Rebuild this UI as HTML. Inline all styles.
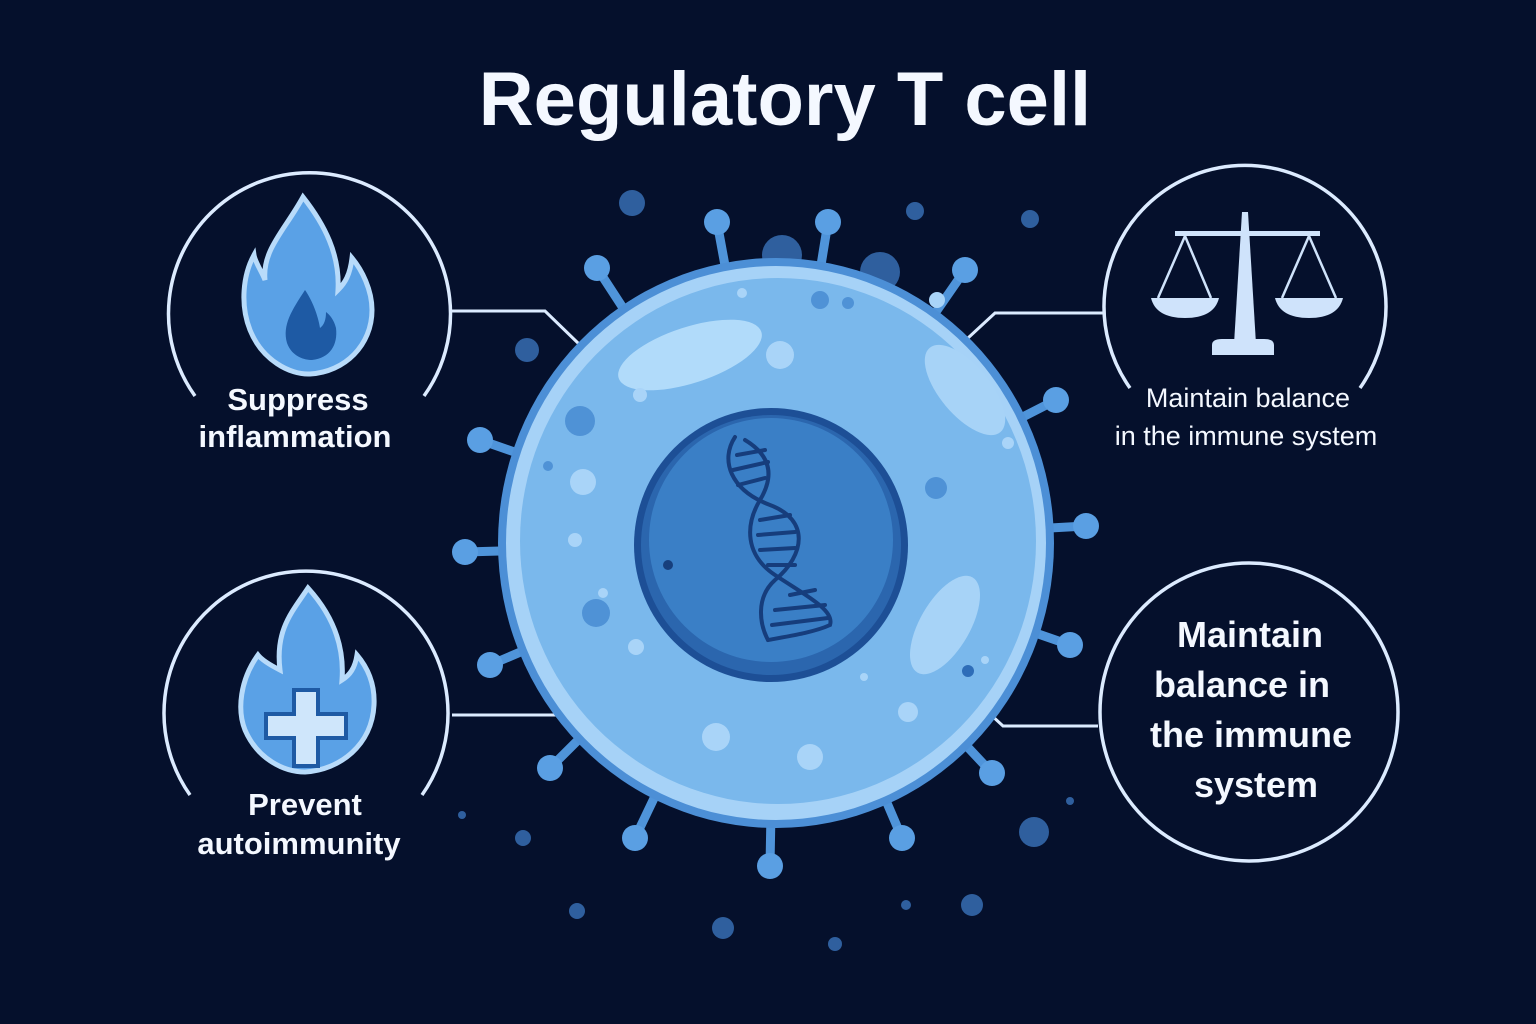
<!DOCTYPE html>
<html><head><meta charset="utf-8"><style>
html,body{margin:0;padding:0;background:#06112e;}
svg{display:block}
text{font-family:"Liberation Sans",sans-serif;font-weight:bold;fill:#f4f8ff;}
</style></head><body>
<svg width="1536" height="1024" viewBox="0 0 1536 1024">
<rect width="1536" height="1024" fill="#05102c"/>
<text x="785" y="125" font-size="76" text-anchor="middle">Regulatory T cell</text>

<!-- background dots -->
<g fill="#2f5f9e">
<circle cx="632" cy="203" r="13"/><circle cx="915" cy="211" r="9"/><circle cx="1030" cy="219" r="9"/>
<circle cx="527" cy="350" r="12"/><circle cx="782" cy="255" r="20"/><circle cx="880" cy="272" r="20"/>
<circle cx="1034" cy="832" r="15"/><circle cx="523" cy="838" r="8"/><circle cx="577" cy="911" r="8"/>
<circle cx="723" cy="928" r="11"/><circle cx="835" cy="944" r="7"/><circle cx="972" cy="905" r="11"/>
<circle cx="906" cy="905" r="5"/><circle cx="1070" cy="801" r="4"/><circle cx="462" cy="815" r="4"/>
</g>

<!-- connectors -->
<g stroke="#dcebff" stroke-width="3" fill="none">
<polyline points="450,311 545,311 580,345"/>
<polyline points="452,715 556,715"/>
<polyline points="1103,313 995,313 968,338"/>
<polyline points="1098,726 1003,726 990,714"/>
</g>

<!-- spikes -->
<g stroke="#4f94da" stroke-width="9" stroke-linecap="round">
<line x1="776" y1="543" x2="597" y2="268"/><line x1="776" y1="543" x2="717" y2="222"/>
<line x1="776" y1="543" x2="828" y2="222"/><line x1="776" y1="543" x2="965" y2="270"/>
<line x1="776" y1="543" x2="1056" y2="400"/><line x1="776" y1="543" x2="1086" y2="526"/>
<line x1="776" y1="543" x2="1070" y2="645"/><line x1="776" y1="543" x2="992" y2="773"/>
<line x1="776" y1="543" x2="902" y2="838"/><line x1="776" y1="543" x2="770" y2="866"/>
<line x1="776" y1="543" x2="635" y2="838"/><line x1="776" y1="543" x2="550" y2="768"/>
<line x1="776" y1="543" x2="490" y2="665"/><line x1="776" y1="543" x2="465" y2="552"/>
<line x1="776" y1="543" x2="480" y2="440"/>
</g>
<g fill="#5a9fe3">
<circle cx="597" cy="268" r="13"/><circle cx="717" cy="222" r="13"/><circle cx="828" cy="222" r="13"/>
<circle cx="965" cy="270" r="13"/><circle cx="1056" cy="400" r="13"/><circle cx="1086" cy="526" r="13"/>
<circle cx="1070" cy="645" r="13"/><circle cx="992" cy="773" r="13"/><circle cx="902" cy="838" r="13"/>
<circle cx="770" cy="866" r="13"/><circle cx="635" cy="838" r="13"/><circle cx="550" cy="768" r="13"/>
<circle cx="490" cy="665" r="13"/><circle cx="465" cy="552" r="13"/><circle cx="480" cy="440" r="13"/>
</g>

<!-- cell body -->
<ellipse cx="776" cy="543" rx="278" ry="285" fill="#4c8fd6"/>
<ellipse cx="776" cy="543" rx="270" ry="277" fill="#a6d2f7"/>
<ellipse cx="778" cy="541" rx="258" ry="263" fill="#7ab8ec"/>
<ellipse cx="690" cy="355" rx="75" ry="28" transform="rotate(-18 690 355)" fill="#b1dbfa"/>
<ellipse cx="965" cy="390" rx="55" ry="25" transform="rotate(50 965 390)" fill="#a7d3f7"/>
<ellipse cx="945" cy="625" rx="55" ry="25" transform="rotate(-60 945 625)" fill="#a7d3f7"/>
<g fill="#a9d4f8">
<circle cx="780" cy="355" r="14"/><circle cx="583" cy="482" r="13"/><circle cx="575" cy="540" r="7"/>
<circle cx="716" cy="737" r="14"/><circle cx="810" cy="757" r="13"/><circle cx="908" cy="712" r="10"/>
<circle cx="636" cy="647" r="8"/><circle cx="603" cy="593" r="5"/><circle cx="937" cy="300" r="8"/>
<circle cx="1008" cy="443" r="6"/><circle cx="742" cy="293" r="5"/><circle cx="640" cy="395" r="7"/>
<circle cx="864" cy="677" r="4"/><circle cx="985" cy="660" r="4"/>
</g>
<g fill="#4f92d6">
<circle cx="580" cy="421" r="15"/><circle cx="596" cy="613" r="14"/><circle cx="936" cy="488" r="11"/>
<circle cx="820" cy="300" r="9"/><circle cx="848" cy="303" r="6"/><circle cx="548" cy="466" r="5"/>
</g>
<circle cx="968" cy="671" r="6" fill="#2e6db8"/>

<!-- nucleus -->
<circle cx="771" cy="545" r="137" fill="#1d4f96"/>
<circle cx="771" cy="545" r="130" fill="#2b66ae"/>
<circle cx="771" cy="540" r="122" fill="#3a7fc6"/>
<circle cx="668" cy="565" r="5" fill="#173f7c"/>
<!-- DNA -->
<g stroke="#163d7c" stroke-width="4" fill="none" stroke-linecap="round">
<path d="M735,437 C720,460 730,490 770,505 C810,520 805,555 775,580 C755,598 760,625 768,640"/>
<path d="M745,440 C770,455 775,475 760,500 C745,525 745,555 775,575 C805,595 835,610 830,625 C815,632 790,636 768,640"/>
<line x1="737" y1="455" x2="765" y2="450"/><line x1="733" y1="470" x2="768" y2="462"/>
<line x1="738" y1="485" x2="765" y2="478"/><line x1="760" y1="520" x2="790" y2="515"/>
<line x1="758" y1="535" x2="795" y2="532"/><line x1="760" y1="550" x2="795" y2="548"/>
<line x1="768" y1="565" x2="795" y2="565"/><line x1="790" y1="595" x2="815" y2="590"/>
<line x1="775" y1="610" x2="825" y2="605"/><line x1="772" y1="625" x2="828" y2="618"/>
</g>

<!-- left top panel -->
<path d="M195,396 A141,141 0 1 1 424,396" fill="none" stroke="#dcebff" stroke-width="3.5"/>
<path d="M303,197 C285,230 262,250 265,280 C262,272 255,262 254,255 C243,275 240,305 250,330 C262,360 290,375 310,374 C345,372 372,345 372,310 C372,290 362,270 352,258 C350,275 345,283 338,290 C340,255 325,225 303,197 Z" fill="#5aa1e6" stroke="#b8dbfa" stroke-width="5"/>
<path d="M305,290 C292,310 282,325 287,343 C292,357 305,360 312,360 C330,358 338,345 336,328 C334,320 330,315 326,312 C326,320 324,325 320,328 C318,315 312,300 305,290 Z" fill="#1e5aa4"/>
<text x="298" y="410" font-size="31" text-anchor="middle">Suppress</text>
<text x="295" y="447" font-size="31" text-anchor="middle">inflammation</text>

<!-- left bottom panel -->
<path d="M190,795 A142,142 0 1 1 422,795" fill="none" stroke="#dcebff" stroke-width="3.5"/>
<path d="M308,588 C292,612 275,630 280,670 C270,665 262,660 258,655 C240,680 237,710 245,730 C258,760 285,772 305,772 C340,770 372,745 374,705 C375,685 368,668 357,655 C355,668 350,675 342,680 C345,640 328,610 308,588 Z" fill="#5aa1e6" stroke="#b8dbfa" stroke-width="5"/>
<path d="M294,690 h24 v24 h28 v24 h-28 v28 h-24 v-28 h-28 v-24 h28 z" fill="#cfe6fb" stroke="#1e5aa4" stroke-width="4"/>
<text x="305" y="815" font-size="31" text-anchor="middle">Prevent</text>
<text x="299" y="854" font-size="31" text-anchor="middle">autoimmunity</text>

<!-- right top panel -->
<path d="M1130,388 A141,141 0 1 1 1360,388" fill="none" stroke="#dcebff" stroke-width="3.5"/>
<g fill="#cfe3fb" stroke="#cfe3fb">
<rect x="1175" y="231" width="145" height="5" stroke="none"/>
<path d="M1242,212 h6 l8,132 h-22 z" stroke="none"/>
<path d="M1212,345 Q1212,339 1222,339 h42 q10,0 10,6 v10 h-62 z" stroke="none"/>
<path d="M1151,298 h68 q-5,20 -34,20 q-29,0 -34,-20 z" stroke="none"/>
<path d="M1275,298 h68 q-5,20 -34,20 q-29,0 -34,-20 z" stroke="none"/>
<g stroke-width="2.5" fill="none"><polyline points="1158,298 1185,236 1211,298"/><polyline points="1282,298 1309,236 1336,298"/></g>
</g>
<text x="1248" y="407" font-size="27" text-anchor="middle" style="font-weight:normal">Maintain balance</text>
<text x="1246" y="445" font-size="27" text-anchor="middle" style="font-weight:normal">in the immune system</text>

<!-- right bottom panel -->
<circle cx="1249" cy="712" r="149" fill="none" stroke="#dcebff" stroke-width="3.5"/>
<text x="1250" y="647" font-size="36" text-anchor="middle">Maintain</text>
<text x="1242" y="697" font-size="36" text-anchor="middle">balance in</text>
<text x="1251" y="747" font-size="36" text-anchor="middle">the immune</text>
<text x="1256" y="797" font-size="36" text-anchor="middle">system</text>
</svg>
</body></html>
